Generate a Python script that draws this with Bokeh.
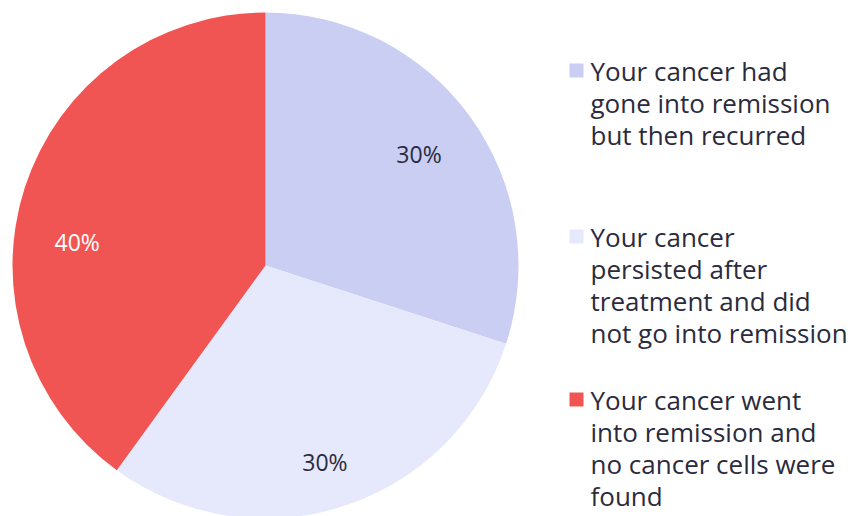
import math
from bokeh.plotting import figure
from bokeh.models import Range1d, ColumnDataSource
from bokeh.core.properties import value
from bokeh.embed import file_html
from bokeh.resources import INLINE

# ---- data ----
categories = [
    "Your cancer had gone into remission but then recurred",
    "Your cancer persisted after treatment and did not go into remission",
    "Your cancer went into remission and no cancer cells were found",
]
legend_lines = [
    ["Your cancer had", "gone into remission", "but then recurred"],
    ["Your cancer", "persisted after", "treatment and did", "not go into remission"],
    ["Your cancer went", "into remission and", "no cancer cells were", "found"],
]
values = [30, 30, 40]
colors = ["#C9CEF2", "#E6E9FB", "#F15553"]
label_colors = ["#2b2b3d", "#2b2b3d", "#ffffff"]

# ---- layout ----
W, H = 848, 516
FONT = "Open Sans"
TEXT_COLOR = "#2b2b3d"

def ty(y_img):
    return H - y_img

def tx(x_img):
    return x_img

cx, cy, R = tx(265), ty(265), 253

p = figure(width=W, height=H, output_backend="svg", toolbar_location=None,
           x_range=Range1d(0, W), y_range=Range1d(0, H),
           min_border=0, min_border_left=0, min_border_right=0,
           min_border_top=0, min_border_bottom=0)
p.axis.visible = False
p.grid.visible = False
p.outline_line_color = None
p.background_fill_color = "white"
p.border_fill_color = "white"

total = sum(values)
starts, ends, mids = [], [], []
a = math.pi / 2
for v in values:
    span = 2 * math.pi * v / total
    starts.append(a)
    ends.append(a - span)
    mids.append(a - span / 2)
    a -= span

src = ColumnDataSource(dict(x=[cx] * 3, y=[cy] * 3, start=starts, end=ends,
                            color=colors, cat=categories))
p.wedge(x="x", y="y", radius=R, start_angle="start", end_angle="end",
        direction="clock", fill_color="color", line_color=None, source=src)

# percentage labels (slight per-slice placement tweaks in polar terms)
label_angle_shift = [0.0, -0.02, 0.19]
label_r_frac = [0.75, 0.81, 0.75]
lx, ly, lt = [], [], []
for i, v in enumerate(values):
    ang = mids[i] + label_angle_shift[i]
    r = R * label_r_frac[i]
    lx.append(cx + r * math.cos(ang))
    ly.append(cy + r * math.sin(ang))
    lt.append(f"{v}%")
p.text(x=lx, y=ly, text=lt, text_color=label_colors, text_align="center",
       text_baseline="middle", text_font=value(FONT), text_font_size="23px")

# legend
first_baselines = [70, 236, 399]
line_h = 32
sq_x, sq_size = 576, 14
for i, lines in enumerate(legend_lines):
    b0 = first_baselines[i]
    p.rect(x=[tx(sq_x)], y=[ty(b0)], width=sq_size, height=sq_size,
           fill_color=colors[i], line_color=None)
    xs = [tx(590)] * len(lines)
    ys = [ty(b0 + k * line_h) for k in range(len(lines))]
    p.text(x=xs, y=ys, text=lines, text_color=TEXT_COLOR, text_align="left",
           text_baseline="middle", text_font=value(FONT), text_font_size="26px")

open("out.html", "w").write(file_html(p, INLINE))
